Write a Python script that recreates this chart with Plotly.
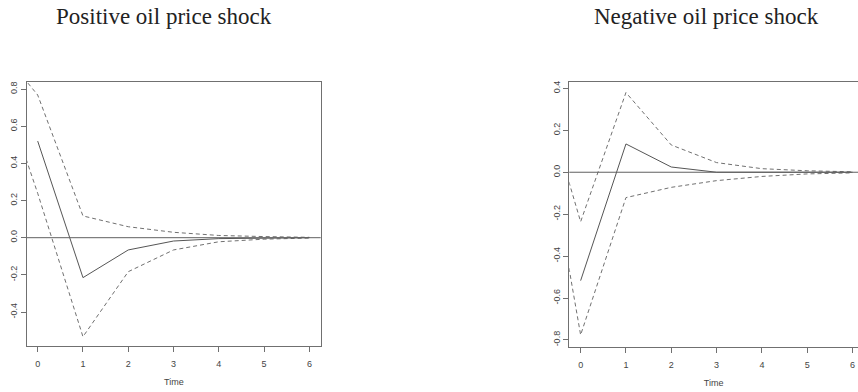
import plotly.graph_objects as go

# ---- data (horizon, impulse responses) ----
time = [-1, 0, 1, 2, 3, 4, 5, 6]

pos_irf = [None, 0.52, -0.215, -0.066, -0.018, -0.005, -0.002, 0.0]
pos_upper = [1.065, 0.768, 0.117, 0.059, 0.029, 0.012, 0.006, 0.002]
pos_lower = [0.959, 0.239, -0.533, -0.183, -0.066, -0.022, -0.008, -0.002]

neg_irf = [None, -0.517, 0.135, 0.025, 0.0, 0.0, 0.0, 0.0]
neg_upper = [0.499, -0.236, 0.38, 0.13, 0.046, 0.017, 0.007, 0.002]
neg_lower = [0.464, -0.776, -0.121, -0.072, -0.040, -0.020, -0.008, -0.003]

titles = ["Positive oil price shock", "Negative oil price shock"]
x_ticks = [0, 1, 2, 3, 4, 5, 6]
pos_yticks = [-0.4, -0.2, 0.0, 0.2, 0.4, 0.6, 0.8]
neg_yticks = [-0.8, -0.6, -0.4, -0.2, 0.0, 0.2, 0.4]

W, H = 858, 392
SOLID = "#555555"
DASH = "#707070"
AX = "#707070"

fig = go.Figure()

def add_panel(xa, ya, irf, up, lo):
    for ys, dash, col in [(up, "4px,3px", DASH), (lo, "4px,3px", DASH), (irf, "solid", SOLID)]:
        fig.add_trace(go.Scatter(x=time, y=ys, mode="lines", xaxis=xa, yaxis=ya,
                                 line=dict(color=col, width=1, dash=dash),
                                 connectgaps=False, showlegend=False, hoverinfo="skip"))
    # zero line
    fig.add_trace(go.Scatter(x=[-2, 8], y=[0, 0], mode="lines", xaxis=xa, yaxis=ya,
                             line=dict(color="#606060", width=1), showlegend=False,
                             hoverinfo="skip"))

add_panel("x", "y", pos_irf, pos_upper, pos_lower)
add_panel("x2", "y2", neg_irf, neg_upper, neg_lower)

tickfont = dict(family="Liberation Sans, Arial, sans-serif", size=9, color="#444")

def xaxis_cfg(domain, rng):
    return dict(domain=domain, range=rng, tickvals=x_ticks, ticks="outside", ticklen=5,
                tickcolor=AX, showline=True, linecolor=AX, linewidth=1, mirror=True,
                showgrid=False, zeroline=False, tickfont=tickfont, automargin=False,
                ticklabelstandoff=4,
                title=dict(text="Time", font=tickfont, standoff=10))

def yaxis_cfg(domain, rng, ticks, anchor, mirror):
    return dict(domain=domain, range=rng, tickvals=ticks,
                ticktext=[f"{t:.1f}" for t in ticks], ticks="outside", ticklen=5,
                tickcolor=AX, showline=True, linecolor=AX, linewidth=1, mirror=mirror,
                showgrid=False, zeroline=False, tickfont=tickfont, tickangle=-90,
                anchor=anchor, automargin=False)

fig.update_layout(
    width=W, height=H,
    margin=dict(l=0, r=0, t=0, b=0, autoexpand=False),
    paper_bgcolor="white", plot_bgcolor="white",
    xaxis=xaxis_cfg([27 / W, 320.7 / W], [-0.236, 6.25]),
    yaxis=yaxis_cfg([46 / H, 310 / H], [-0.583, 0.838], pos_yticks, "x", True),
    xaxis2=dict(xaxis_cfg([569.3 / W, 1.0], [-0.25, 6.12]), anchor="y2"),
    yaxis2=yaxis_cfg([44.7 / H, 309.7 / H], [-0.835, 0.429], neg_yticks, "x2", False),
)

for txt, cx in zip(titles, [164, 706]):
    fig.add_annotation(text=txt, x=cx / W, y=1 - 16 / H, xref="paper", yref="paper",
                       showarrow=False, xanchor="center", yanchor="middle",
                       font=dict(family="Liberation Serif, Times New Roman, serif",
                                 size=23, color="#222"))

fig.write_html("out.html", config={"displayModeBar": False},
               post_script="document.body.style.margin='0';document.body.style.overflow='hidden';")
